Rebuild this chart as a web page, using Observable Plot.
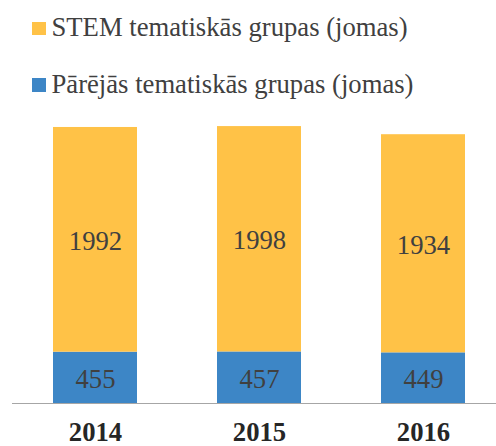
<!DOCTYPE html>
<html>
<head>
<meta charset="utf-8">
<script src="https://cdn.jsdelivr.net/npm/d3@7"></script>
<script src="https://cdn.jsdelivr.net/npm/@observablehq/plot@0.6"></script>
<style>
  html, body { margin: 0; padding: 0; background: #fff; }
  #wrap { position: relative; width: 496px; height: 446px; font-family: "Times New Roman", "Liberation Serif", serif; }
  #legend { position: relative; width: 496px; height: 110px; }
  .sw { position: absolute; left: 32px; width: 13.5px; height: 13.5px; }
  .lt { position: absolute; left: 51.5px; font-family: "Times New Roman", "Liberation Serif", serif; font-size: 26.67px; line-height: 26px; color: #404040; white-space: nowrap; }
  #chart svg { display: block; }
  #chart svg text { font-family: "Times New Roman", "Liberation Serif", serif; }
</style>
</head>
<body>
<div id="wrap">
  <div id="legend"></div>
  <div id="chart"></div>
</div>
<script>
const years = ["2014", "2015", "2016"];
const stemValues = [1992, 1998, 1934];
const otherValues = [455, 457, 449];
const seriesStem = "STEM tematiskās grupas (jomas)";
const seriesOther = "Pārējās tematiskās grupas (jomas)";
const colorStem = "#FFC247";
const colorOther = "#3D86C6";

// legend (HTML above the SVG)
const legend = document.getElementById("legend");
[[seriesStem, colorStem, 21.7, 13.8], [seriesOther, colorOther, 78.3, 70.5]].forEach(([name, col, sqTop, txtTop]) => {
  const sw = document.createElement("div");
  sw.className = "sw"; sw.style.top = sqTop + "px"; sw.style.background = col;
  const t = document.createElement("div");
  t.className = "lt"; t.style.top = txtTop + "px"; t.textContent = name;
  legend.appendChild(sw); legend.appendChild(t);
});

const data = [];
years.forEach((y, i) => data.push({year: y, series: seriesOther, value: otherValues[i]}));
years.forEach((y, i) => data.push({year: y, series: seriesStem, value: stemValues[i]}));

const chart = Plot.plot({
  width: 496,
  height: 336,
  marginTop: 11,
  marginBottom: 43,
  marginLeft: 12,
  marginRight: 0,
  style: {fontFamily: "'Times New Roman', 'Liberation Serif', serif", background: "#fff", color: "#404040"},
  x: {domain: years, range: [12, 506], paddingInner: 0.49, paddingOuter: 0.245, label: null},
  y: {domain: [0, 2500], axis: null},
  color: {domain: [seriesOther, seriesStem], range: [colorOther, colorStem]},
  marks: [
    Plot.barY(data, Plot.stackY({x: "year", y: "value", fill: "series", order: null})),
    Plot.text(data, Plot.stackY({x: "year", y: "value", z: "series", text: d => String(d.value), fontSize: 26.67, fill: "#404040", dy: 1.5})),
    Plot.ruleY([0], {stroke: "#a6a6a6", strokeWidth: 1}),
    Plot.axisX({tickSize: 0, tickPadding: 19, fontSize: 26.67, fontWeight: "bold", fill: "#262626", label: null})
  ]
});
document.getElementById("chart").appendChild(chart);
</script>
</body>
</html>
